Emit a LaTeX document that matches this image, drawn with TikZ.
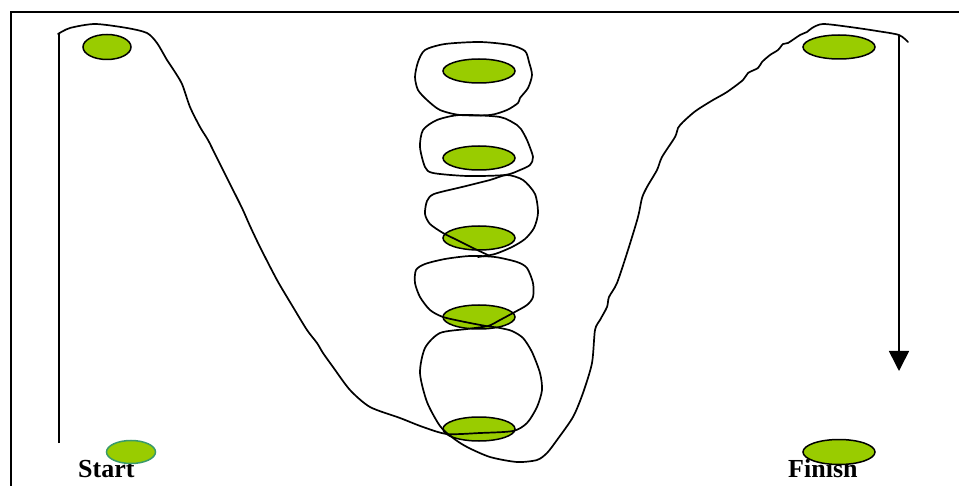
\documentclass[tikz,border=0pt]{standalone}
\usepackage{fontspec}
\setmainfont{Liberation Serif}
\usetikzlibrary{shapes.geometric,arrows.meta}
\definecolor{leaf}{HTML}{99CC00}
\definecolor{tealrim}{HTML}{3A9A6A}
\tikzset{
  ell/.style={ellipse,draw=black,fill=leaf,line width=1.5pt,inner sep=0pt},
  small/.style={ell,minimum width=48pt,minimum height=25pt},
  big/.style={ell,minimum width=72pt,minimum height=24pt},
  scribble/.style={line width=1.7pt,line join=round,line cap=round},
  frame/.style={line width=1.6pt},
  lbl/.style={font=\bfseries\fontsize{26}{26}\selectfont,inner sep=0pt}
}
\begin{document}
\begin{tikzpicture}[x=1pt,y=-1pt]
\useasboundingbox (0,0) rectangle (959,486);
% frame
\draw[frame] (11,486) -- (11,12) -- (959,12);
% labels (under the ovals)
\node[lbl,anchor=base west] (start) at (78,477) {Start};
\node[lbl,anchor=base west] (finish) at (788,477) {Finish};
% ovals
\node[small] (tl) at (107,47) {};
\node[big] (tr) at (839,47) {};
\node[big] (c1) at (479,71) {};
\node[big] (c2) at (479,158) {};
\node[big] (c3) at (479,238) {};
\node[big] (c4) at (479,317) {};
\node[big] (c5) at (479,429) {};
\node[ell,draw=tealrim,minimum width=49pt,minimum height=23pt] (st) at (131,452) {};
\node[big,minimum height=25pt] (fi) at (839,452) {};
% vertical lines
\coordinate (lt) at (59,34);
\coordinate (lb) at (59,443);
\draw[frame] (lb) -- (lt);
\coordinate (rt) at (899,35);
\coordinate (rb) at (899,371);
\draw[line width=1.6pt,-{Triangle[width=20pt,length=20pt]}] (rt) -- (rb);
% main scribble: left slope, loops 5 and 4, right slope
\draw[scribble] plot[smooth,tension=0.45] coordinates {
 (58,34) (70,28) (95,24) (127,28) (147,33) (157,43) (167,60) (173,69) (182,84)
 (190,107) (200,127) (208,140) (215,154) (228,180) (242,208) (250,226) (260,247)
 (277,280) (293,307) (307,330) (317,343) (323,353) (333,367) (350,390) (370,407)
 (400,418) (423,427) (447,434) (480,433) (513,431) (527,423) (537,407) (542,390)
 (540,373) (532,352) (523,338) (512,331) (500,328) (486,326) (465,322) (443,317) (430,310)
 (420,297) (415,283) (416,270) (425,264) (445,259) (470,256) (495,257) (517,262)
 (527,268) (533,283) (533,297) (527,305) (513,313) (500,320) (488,326) (467,329)
 (440,333) (425,348) (420,373) (427,402) (440,426) (453,438) (467,447) (490,457)
 (517,462) (537,460) (547,453) (557,440) (573,417) (583,393) (592,363) (595,330)
 (600,320) (607,307) (609,297) (617,283) (628,250) (638,217) (642,198) (647,187)
 (657,170) (662,157) (675,137) (678,128) (683,122) (693,113) (700,108) (713,100)
 (727,92) (743,80) (748,73) (758,68) (762,62) (770,55) (778,50) (783,44) (788,43)
 (800,35) (807,32) (812,28) (823,24) (850,27) (877,31) (899,35) (908,42)};
% loop 3
\draw[scribble] plot[smooth,tension=0.45] coordinates {
 (490,256) (473,248) (457,240) (443,233) (430,224) (425,214) (427,201) (434,194)
 (462,187) (490,180) (507,175) (523,180) (535,194) (538,213) (534,228) (525,239)
 (512,247) (495,254) (478,257)};
% loop 2
\draw[scribble] plot[smooth cycle,tension=0.45] coordinates {
 (460,115) (500,117) (517,125) (521,129) (527,140) (533,157) (530,165) (520,170)
 (505,175) (467,176) (433,173) (425,167) (420,147) (423,130) (437,120)};
% loop 1
\draw[scribble] plot[smooth cycle,tension=0.45] coordinates {
 (425,50) (445,44) (480,42) (510,45) (525,51) (529,62) (532,75) (528,88) (520,98)
 (518,103) (507,110) (490,115) (460,115) (440,110) (427,100) (418,90) (415,77) (418,62)};
\end{tikzpicture}
\end{document}
